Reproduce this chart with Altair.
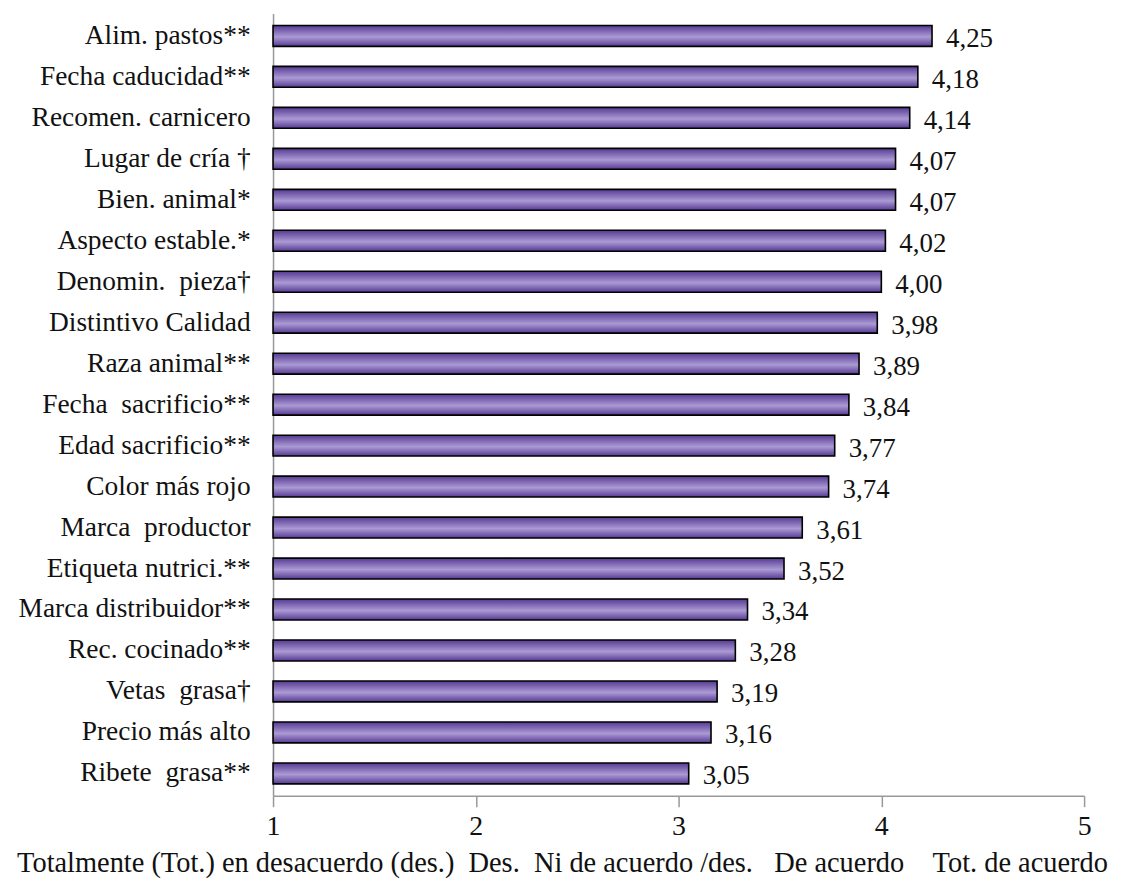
import altair as alt
import pandas as pd

categories = [
    "Alim. pastos**", "Fecha caducidad**", "Recomen. carnicero", "Lugar de cría †",
    "Bien. animal*", "Aspecto estable.*", "Denomin.  pieza†", "Distintivo Calidad",
    "Raza animal**", "Fecha  sacrificio**", "Edad sacrificio**", "Color más rojo",
    "Marca  productor", "Etiqueta nutrici.**", "Marca distribuidor**", "Rec. cocinado**",
    "Vetas  grasa†", "Precio más alto", "Ribete  grasa**",
]
values = [4.25, 4.18, 4.14, 4.07, 4.07, 4.02, 4.00, 3.98, 3.89, 3.84, 3.77, 3.74,
          3.61, 3.52, 3.34, 3.28, 3.19, 3.16, 3.05]
x_ticks = [1, 2, 3, 4, 5]
NB = "\u00a0"
x_title = ("Totalmente (Tot.) en desacuerdo (des.)" + NB * 2 + "Des." + NB * 2 +
           "Ni de acuerdo /des." + NB * 3 + "De acuerdo" + NB * 4 + "Tot. de acuerdo")

df = pd.DataFrame({"cat": [c.replace("  ", NB + " ") for c in categories], "val": values})
sort_order = list(df["cat"])
df["label"] = [f"{v:.2f}".replace(".", ",") for v in values]

FONT = "Liberation Serif, Times New Roman, serif"

y_enc = alt.Y("cat:N", sort=sort_order,
              scale=alt.Scale(paddingInner=0.49, paddingOuter=0.29),
              axis=alt.Axis(title=None, ticks=False, labelPadding=23, labelFont=FONT,
                            labelFontSize=27.5, labelColor="#111111", domainColor="#999999",
                            domainWidth=1.5, minExtent=266, maxExtent=266, labelLimit=400))

x_scale = alt.Scale(domain=[1, 5], zero=False, nice=False)

bars = alt.Chart(df).mark_bar(
    stroke="black", strokeWidth=1.6,
    color=alt.Gradient(
        gradient="linear", x1=0, y1=0, x2=0, y2=1,
        stops=[alt.GradientStop(offset=0, color="#563a93"),
               alt.GradientStop(offset=0.55, color="#ab9ad4"),
               alt.GradientStop(offset=1, color="#563a93")],
    ),
).encode(
    y=y_enc,
    x=alt.X("val:Q", scale=x_scale,
            axis=alt.Axis(values=x_ticks, format="d", grid=False, title=x_title,
                          titleFont=FONT, titleFontSize=28.5, titleFontWeight="normal",
                          titleColor="#111111", titleX=290, titlePadding=8,
                          labelFont=FONT, labelFontSize=28, labelColor="#111111",
                          labelPadding=6, labelFlush=False, labelOverlap=False,
                          tickSize=11, tickColor="#999999",
                          domainColor="#999999", domainWidth=1.5, tickWidth=1.5)),
    x2=alt.datum(1),
)

texts = alt.Chart(df).mark_text(
    align="left", baseline="middle", dx=14, dy=3, font=FONT, fontSize=27, color="#111111"
).encode(
    y=alt.Y("cat:N", sort=sort_order),
    x=alt.X("val:Q", scale=x_scale),
    text="label:N",
)

chart = (bars + texts).properties(
    width=814, height=785,
    padding={"left": 0, "top": 4, "right": 5, "bottom": 5},
).configure_view(stroke=None)

chart.save("out.html", embed_options={"renderer": "svg", "actions": False})
